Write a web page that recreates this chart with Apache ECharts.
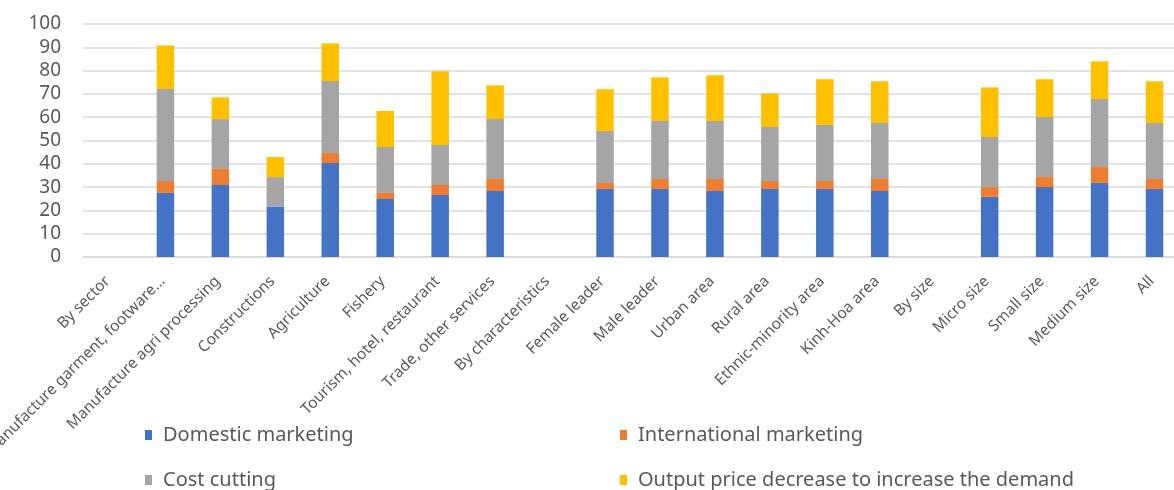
<!DOCTYPE html>
<html>
<head>
<meta charset="utf-8">
<script src="https://cdn.jsdelivr.net/npm/echarts@6/dist/echarts.min.js"></script>
<style>html,body{margin:0;padding:0;background:#fff}#c{width:1174px;height:490px}</style>
</head>
<body>
<div id="c"></div>
<script>
const categories = ["By sector","Manufacture garment, footware…","Manufacture agri processing","Constructions","Agriculture","Fishery","Tourism, hotel, restaurant","Trade, other services","By characteristics","Female leader","Male leader","Urban area","Rural area","Ethnic-minority area","Kinh-Hoa area","By size","Micro size","Small size","Medium size","All"];
const seriesNames = ["Domestic marketing","International marketing","Cost cutting","Output price decrease to increase the demand"];
const domestic      = [null,27.5,30.9,21.6,40.3,24.9,26.6,28.3,null,29.2,29.2,28.3,29.2,29.2,28.3,null,25.8,30.0,31.8,29.2];
const international = [null,5.1,6.9,0,4.3,2.6,4.3,5.2,null,2.6,4.3,5.2,3.4,3.4,5.2,null,4.2,4.3,6.8,4.3];
const costCutting   = [null,39.5,21.4,12.7,30.9,19.7,17.2,25.7,null,22.3,24.9,24.9,23.2,24.1,24.0,null,21.5,25.8,29.2,24.0];
const outputPrice   = [null,18.7,9.3,8.6,16.2,15.5,31.6,14.5,null,17.9,18.7,19.6,14.4,19.6,17.9,null,21.3,16.2,16.2,17.9];
const yTicks = [0,10,20,30,40,50,60,70,80,90,100];

const colors = ["#4472C4","#ED7D31","#A5A5A5","#FFC000"];
const values = [domestic, international, costCutting, outputPrice];
const font = "Noto Sans";

const chart = echarts.init(document.getElementById('c'), null, {renderer:'canvas'});
const legendPos = [[145,425],[620,425],[145,470],[620,470]];
chart.setOption({
  animation:false,
  color: colors,
  grid:{left:83, top:24, width:1099, height:233, containLabel:false, outerBoundsMode:'none'},
  legend: seriesNames.map((n,i)=>({
    data:[n], left:legendPos[i][0], top:legendPos[i][1], padding:0,
    icon:'rect', itemWidth:7, itemHeight:10, itemGap:6,
    textStyle:{fontFamily:font, fontSize:20, color:'#595959', padding:[0,0,0,6]}
  })),
  xAxis:{
    type:'category', data:categories,
    axisLine:{show:true, lineStyle:{color:'#D9D9D9', width:1.5}},
    axisTick:{show:false},
    axisLabel:{interval:0, rotate:45, fontFamily:font, fontSize:15.5, color:'#595959', margin:19, padding:[0,4,0,0]}
  },
  yAxis:{
    type:'value', min:yTicks[0], max:yTicks[yTicks.length-1], interval:10,
    axisLine:{show:false}, axisTick:{show:false},
    splitLine:{lineStyle:{color:'#D9D9D9', width:1.5}},
    axisLabel:{fontFamily:font, fontSize:19, color:'#595959', margin:22}
  },
  series: seriesNames.map((n,i)=>({
    name:n, type:'bar', stack:'total', data:values[i], barWidth:17.5,
    itemStyle:{color:colors[i]}
  }))
});
</script>
</body>
</html>
